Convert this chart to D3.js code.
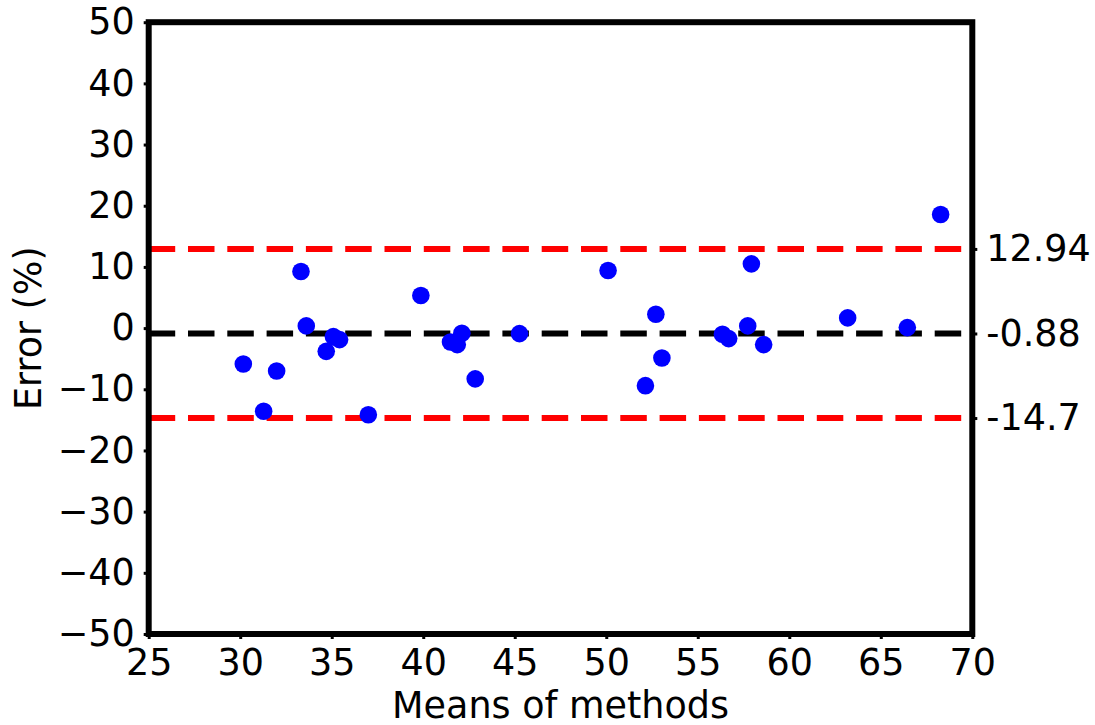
<!DOCTYPE html>
<html>
<head>
<meta charset="utf-8">
<script src="https://cdn.jsdelivr.net/npm/d3@7"></script>
<style>
  body { margin: 0; background: #fff; }
  text { font-family: "DejaVu Sans", sans-serif; fill: #000; }
</style>
</head>
<body>
<div class="canvas"></div>
<script>
// Bland-Altman style data
const means = [30.17, 31.28, 31.99, 33.32, 33.61, 34.70, 35.09, 35.43, 37.00, 39.87,
               41.49, 41.86, 42.11, 42.84, 45.26, 50.10, 52.14, 52.71, 53.04, 56.35,
               56.69, 57.73, 57.93, 58.60, 63.19, 66.45, 68.27]
const errors = [-5.87, -13.6, -7.0, 9.25, 0.36, -3.8, -1.39, -1.88, -14.16, 5.32,
                -2.26, -2.7, -0.85, -8.3, -0.9, 9.41, -9.41, 2.26, -4.88, -1.01,
                -1.72, 0.36, 10.5, -2.7, 1.67, 0.08, 18.58]
const bias = -0.88
const limits = [12.94, -14.7]
const limitLabels = ['12.94', '-0.88', '-14.7']
const xTicks = [25, 30, 35, 40, 45, 50, 55, 60, 65, 70]
const yTicks = [50, 40, 30, 20, 10, 0, -10, -20, -30, -40, -50]

const dims = { width: 1095, height: 725 }
const box = { left: 148.7, right: 972.3, top: 22.2, bottom: 634 }
const fontSize = 36.5

const svg = d3.select('.canvas')
              .append('svg')
              .attr('width', dims.width)
              .attr('height', dims.height)

const x = d3.scaleLinear().domain([25, 70]).range([box.left, box.right])
const y = d3.scaleLinear().domain([-50, 50]).range([box.bottom, box.top])

// reference lines
const dash = '26.5,12.8'
svg.selectAll('.limit')
   .data(limits)
   .enter()
   .append('line')
   .attr('x1', x(25)).attr('x2', x(70))
   .attr('y1', d => y(d)).attr('y2', d => y(d))
   .attr('stroke', '#ff0000')
   .attr('stroke-width', 6)
   .attr('stroke-dasharray', dash)

svg.append('line')
   .attr('x1', x(25)).attr('x2', x(70))
   .attr('y1', y(bias)).attr('y2', y(bias))
   .attr('stroke', '#000')
   .attr('stroke-width', 6)
   .attr('stroke-dasharray', dash)

// points
svg.selectAll('circle')
   .data(means.map((m, i) => ({ m: m, e: errors[i] })))
   .enter()
   .append('circle')
   .attr('cx', d => x(d.m))
   .attr('cy', d => y(d.e))
   .attr('r', 8.8)
   .attr('fill', '#0000ff')

// axes
const xAxis = d3.axisBottom(x).tickValues(xTicks).tickSize(5).tickPadding(10)
const yAxis = d3.axisLeft(y).tickValues(yTicks).tickSize(5).tickPadding(9)
                .tickFormat(d => d < 0 ? '\u2212' + Math.abs(d) : d)
const rAxis = d3.axisRight(y).tickValues([limits[0], bias, limits[1]]).tickSize(5).tickPadding(9)
                .tickFormat((d, i) => limitLabels[i])

const styleAxis = g => {
  g.select('.domain').remove()
  g.selectAll('.tick line').attr('stroke', '#000').attr('stroke-width', 3)
  g.selectAll('.tick text')
   .attr('font-size', fontSize)
   .attr('font-family', '"DejaVu Sans", sans-serif')
   .attr('fill', '#000')
}

svg.append('g').attr('transform', `translate(0,${box.bottom})`).call(xAxis).call(styleAxis)
svg.append('g').attr('transform', `translate(${box.left},0)`).call(yAxis).call(styleAxis)
svg.append('g').attr('transform', `translate(${box.right},0)`).call(rAxis).call(styleAxis)

// frame
svg.append('rect')
   .attr('x', box.left).attr('y', box.top)
   .attr('width', box.right - box.left)
   .attr('height', box.bottom - box.top)
   .attr('fill', 'none')
   .attr('stroke', '#000')
   .attr('stroke-width', 6)

// labels
svg.append('text')
   .attr('x', (box.left + box.right) / 2)
   .attr('y', 718)
   .attr('text-anchor', 'middle')
   .attr('font-size', fontSize)
   .text('Means of methods')

svg.append('text')
   .attr('transform', `translate(41,${(box.top + box.bottom) / 2}) rotate(-90)`)
   .attr('text-anchor', 'middle')
   .attr('font-size', fontSize)
   .text('Error (%)')
</script>
</body>
</html>
